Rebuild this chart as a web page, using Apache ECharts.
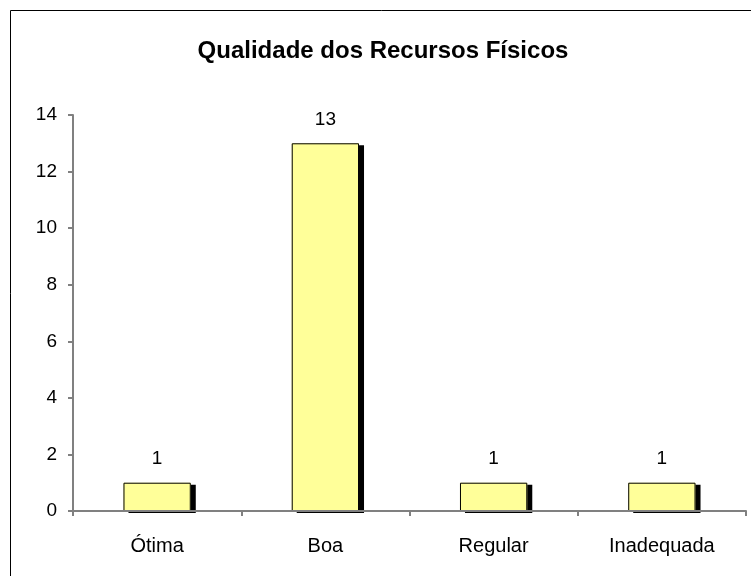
<!DOCTYPE html>
<html>
<head>
<meta charset="utf-8">
<script src="https://cdn.jsdelivr.net/npm/echarts@6/dist/echarts.min.js"></script>
<style>
  html, body { margin: 0; padding: 0; background: #fff; }
  #chart { width: 751px; height: 576px; }
</style>
</head>
<body>
<div id="chart"></div>
<script>
// dados do gráfico
var categorias = ['Ótima', 'Boa', 'Regular', 'Inadequada'];
var valores = [1, 13, 1, 1];
var titulo = 'Qualidade dos Recursos Físicos';

var chart = echarts.init(document.getElementById('chart'));

var option = {
  animation: false,
  textStyle: { fontFamily: 'Liberation Sans, Arial, sans-serif' },
  title: {
    text: titulo,
    left: 378,
    textAlign: 'center',
    top: 34,
    textStyle: { fontSize: 24, fontWeight: 'bold', color: '#000' }
  },
  // moldura do gráfico (cortada à direita e embaixo)
  graphic: [{
    type: 'rect',
    shape: { x: 10.5, y: 10.5, width: 800, height: 800 },
    style: { fill: 'none', stroke: '#000', lineWidth: 1 },
    silent: true
  }],
  grid: { left: 73, right: 5, top: 115, bottom: 65 },
  xAxis: {
    type: 'category',
    data: categorias,
    z: 5,
    axisLine: { lineStyle: { color: '#808080', width: 2 } },
    axisTick: { show: true, length: 5, lineStyle: { color: '#808080', width: 2 } },
    axisLabel: { color: '#000', fontSize: 20, margin: 25 }
  },
  yAxis: {
    type: 'value',
    min: 0,
    max: 14,
    interval: 2,
    splitLine: { show: false },
    axisLine: { show: true, lineStyle: { color: '#808080', width: 2 } },
    axisTick: { show: true, length: 5, lineStyle: { color: '#808080', width: 2 } },
    axisLabel: { color: '#000', fontSize: 19, margin: 16 }
  },
  series: [{
    // preenchimento com sombra preta
    type: 'bar',
    data: valores,
    barWidth: '40%',
    itemStyle: {
      color: '#FFFF99',
      borderWidth: 0,
      shadowColor: '#000',
      shadowBlur: 0,
      shadowOffsetX: 5,
      shadowOffsetY: 2
    },
    label: {
      show: true,
      position: 'top',
      distance: 14,
      color: '#000',
      fontSize: 19
    }
  }, {
    // contorno
    type: 'bar',
    data: valores,
    barWidth: '40%',
    barGap: '-100%',
    silent: true,
    itemStyle: {
      color: 'rgba(0,0,0,0)',
      borderColor: '#000',
      borderWidth: 1
    }
  }]
};

chart.setOption(option);
</script>
</body>
</html>
